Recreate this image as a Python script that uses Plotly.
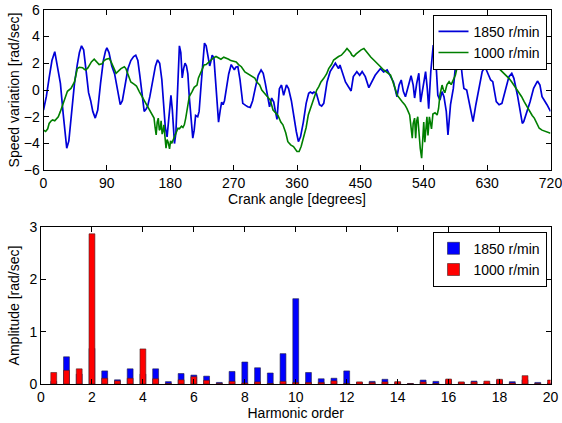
import plotly.graph_objects as go

# ---- Crank-angle speed variation (deg, rad/s) ----
angle_1850 = [0, 4, 8, 12, 16, 20, 24, 28, 31, 33, 36, 40, 44, 48, 51, 54, 57, 61, 64, 67, 70, 73.5, 77, 81, 85, 88, 90, 93, 97, 101,
              105, 109, 112, 116, 120, 124, 128, 131, 134, 137, 140, 143, 146, 148, 151, 155, 159, 162, 165, 168, 171, 173, 175.5,
              178, 181, 183, 186, 188, 190, 192, 193, 195, 197, 199, 201, 203, 205, 207, 210, 212, 214, 216, 219, 221, 224, 227,
              228.6, 231, 234, 236, 238, 239.5, 242, 244, 246, 248.6, 251, 253, 255, 257, 260, 263, 266.6, 269, 271, 273, 276, 279,
              283, 287, 290, 293.6, 297, 301, 305, 309, 312, 315, 318, 321, 324, 327, 329, 331.6, 333, 335, 338, 341, 345, 348, 352,
              356, 359, 362, 365, 369, 373, 376.6, 379, 382, 384, 387.5, 392, 395, 398, 402.7, 407, 414.5, 419, 421, 428.8, 436.8,
              440, 445, 449, 452.5, 457, 462, 467, 471, 478.6, 483, 488, 492, 497, 502, 505, 508, 511, 514, 518, 522, 525, 527, 530,
              533, 535.5, 539, 542.6, 545, 547, 550, 553.5, 557, 560, 563, 566, 568.7, 572, 574.4, 578, 582, 585, 589, 592, 594.8,
              597, 601, 604, 610, 614, 618, 623, 627, 630, 635, 638, 643, 647, 651, 656, 661, 665, 668, 673, 680, 682, 687, 691, 696,
              701.5, 705, 708, 715, 720]
speed_1850 = [-1.5, -0.5, 0.9, 2.2, 2.86, 1.8, 0.5, -1.8, -3.5, -4.35, -3.8, -1.5, 0.5, 1.9, 2.8, 3.3, 3.0, 1.2, -0.2, -0.8, -1.6, -2.1,
              -1.5, 0.5, 2.2, 2.9, 3.15, 2.8, 1.8, 1.2, 0.0, -1.1, -0.8, 0.5, 1.6, 2.2, 2.5, 2.6, 2.2, 1.0, -0.5, -1.6, -1.4, -1.2,
              -0.5, 0.6, 1.8, 2.25, 2.0, 0.8, -1.2, -2.8, -3.5, -2.2, -0.4, -1.5, -4.0, -3.2, -0.5, 2.0, 3.3, 2.8, 0.9, 1.6, 2.0,
              1.8, 1.2, -0.5, -2.8, -3.6, -3.0, -1.9, -2.0, -1.6, 0.5, 2.8, 3.5, 3.3, 2.4, 1.8, 2.2, 2.6, 2.4, 1.0, -1.0, -2.4,
              -1.5, -0.9, -1.1, -0.8, 0.2, 1.2, 1.9, 1.7, 1.5, 1.7, 1.75, 0.8, -1.0, -1.15, -1.25, -1.3, -0.8, 0.2, 1.1, 1.5, 1.25,
              0.5, -0.5, -1.25, -0.6, -0.9, -1.5, -2.2, -1.2, 0.1, 0.37, -0.4, 0.37, 0.1, -0.8, -2.2, -3.1, -3.85, -3.5, -2.4, -1.0,
              -0.25, -0.15, -0.25, -0.15, -0.25, -1.1, -1.2, -1.0, 0.6, 1.37, 2.0, 1.6, 1.87, 0.6, -0.07, 1.0, 1.37, 1.1, 1.37, 1.0,
              0.17, 0.75, 1.1, 1.6, 1.35, 1.5, 1.12, 0.6, -0.5, 0.37, 0.75, -0.1, -0.5, 0.25, 1.07, 0.37, -0.6, 0.5, 1.25, -0.9,
              0.37, 1.37, 0.12, -1.4, 1.37, 3.36, 2.4, -0.4, -0.75, -0.12, -0.5, -1.6, -3.36, -1.1, 0.12, 1.74, 2.86, 2.36, 1.0,
              0.12, 0.0, -0.87, -2.36, -1.1, 0.12, 1.37, 1.74, 1.37, 0.75, 0.62, -0.87, -1.1, -1.0, 0.0, 1.0, 1.24, 0.87, -0.37,
              -2.5, -2.36, -1.6, -0.87, 0.12, 0.67, 0.37, -0.5, -1.1, -1.6]

angle_1000 = [0, 3, 6, 8, 11, 13, 16, 18, 21, 24, 27, 31, 34, 39, 41, 44, 46, 48, 51, 55.5, 58, 60, 63, 65, 68, 72, 75, 79, 83, 86, 89,
              93.5, 96, 98, 101, 103, 106, 110, 114.8, 117, 119, 122, 124, 129, 132, 136, 140, 143, 147, 150, 153, 157, 158.5, 160,
              161.5, 163, 164.5, 166, 167, 168.5, 170, 171, 172.5, 174, 175.5, 177, 179, 180.5, 182, 186, 188, 191, 193, 196, 198,
              200, 202, 205, 207, 211, 214, 218, 220, 224, 228, 231, 235, 240.5, 245, 249, 252, 256, 259.5, 263, 266, 270, 273.7,
              277, 281, 286, 292.7, 297, 300, 303, 307, 310, 314, 318, 322, 326, 330, 333, 337, 340, 344, 347, 351, 355, 360, 363,
              366, 369.5, 373, 376, 380, 383.7, 388, 391, 394, 398, 402, 405, 409, 412, 416, 419, 423, 426, 428, 431, 434, 436, 438,
              440.6, 444, 448, 451, 455, 458, 462, 465, 469, 473, 478.6, 483, 488, 492.8, 495, 498, 500, 502, 506, 509.4, 513, 516,
              520, 521.5, 523.7, 525, 527, 528.5, 530, 531.5, 533, 535, 537, 538.5, 540, 541.5, 543, 544.5, 546, 548, 550, 551, 553,
              556, 559, 561, 563, 566, 568, 570, 573, 576, 579, 582, 585, 587, 590, 593, 597, 600, 604, 608, 611, 614, 618, 622,
              625.6, 629, 633, 636, 640, 643, 647, 650, 654, 658, 661, 665, 668, 672, 675, 679, 682.6, 686, 690, 694, 697, 701, 704,
              708, 713, 717, 720]
speed_1000 = [-3.0, -3.1, -2.9, -2.5, -2.3, -2.24, -2.3, -2.2, -2.0, -1.6, -1.1, -0.5, -0.1, 0.12, 0.3, 0.6, 1.1, 1.6, 1.7, 1.67, 1.55,
              1.5, 1.65, 1.87, 2.1, 2.3, 2.1, 1.9, 1.95, 2.2, 2.3, 2.36, 2.1, 1.9, 1.5, 1.24, 1.4, 1.6, 1.74, 1.6, 1.3, 0.9, 0.6,
              0.42, 0.3, -0.12, -0.5, -0.75, -1.1, -1.37, -1.7, -2.1, -2.8, -3.36, -2.4, -2.1, -3.0, -2.9, -2.3, -3.3, -3.0, -2.6,
              -3.5, -4.35, -3.7, -3.9, -4.4, -3.8, -4.0, -3.5, -3.3, -2.86, -2.9, -2.7, -2.8, -2.6, -2.1, -1.0, -0.5, -0.12, 0.2,
              0.37, 0.9, 1.37, 1.87, 1.9, 2.1, 2.36, 2.5, 2.35, 2.3, 2.45, 2.4, 2.3, 2.2, 2.15, 2.1, 1.9, 1.74, 1.35, 1.12, 1.0, 0.9,
              0.6, 0.37, 0.0, -0.25, -0.5, -0.75, -1.5, -1.7, -1.9, -2.4, -2.6, -3.2, -3.86, -4.1, -4.23, -4.6, -4.6, -4.2, -3.5,
              -2.8, -1.87, -1.2, -0.62, 0.0, 0.25, 0.6, 0.87, 1.2, 1.6, 1.9, 2.24, 2.4, 2.5, 2.6, 2.74, 2.9, 3.1, 2.95, 2.8, 2.6,
              2.5, 2.7, 2.9, 3.0, 3.1, 2.9, 2.6, 2.45, 2.24, 2.0, 1.74, 1.5, 1.3, 1.12, 0.8, 0.37, 0.0, -0.37, -0.6, -0.87, -1.1,
              -1.37, -1.87, -2.8, -3.6, -2.5, -2.1, -3.6, -2.3, -2.0, -3.1, -4.35, -5.1, -3.4, -2.4, -3.9, -3.0, -2.0, -3.4, -2.0,
              -2.6, -2.9, -1.8, -1.7, -1.87, -1.4, -0.37, 0.37, 0.0, -0.2, 0.4, 0.62, 0.4, 0.8, 1.12, 1.6, 2.0, 2.1, 2.2, 2.36, 2.6,
              2.4, 2.35, 2.6, 2.5, 2.3, 2.24, 2.1, 2.0, 2.1, 2.0, 1.8, 1.6, 1.4, 1.24, 1.0, 0.87, 0.6, 0.37, 0.0, -0.25, -0.5,
              -0.87, -1.2, -1.6, -1.9, -2.1, -2.5, -2.86, -3.0, -3.1, -3.15, -3.23]

# ---- Harmonic amplitude spectrum (rad/s) ----
harmonic_order = [0.5, 1, 1.5, 2, 2.5, 3, 3.5, 4, 4.5, 5, 5.5, 6, 6.5, 7, 7.5, 8, 8.5, 9, 9.5, 10,
                  10.5, 11, 11.5, 12, 12.5, 13, 13.5, 14, 14.5, 15, 15.5, 16, 16.5, 17, 17.5, 18, 18.5, 19, 19.5, 20]
amp_1850 = [0.05, 0.52, 0.19, 0.68, 0.25, 0.08, 0.29, 0.19, 0.29, 0.045, 0.20, 0.17, 0.15, 0.03, 0.24, 0.42, 0.31, 0.21, 0.58, 1.63,
            0.22, 0.10, 0.11, 0.25, 0.03, 0.05, 0.09, 0.03, 0.01, 0.075, 0.05, 0.07, 0.03, 0.055, 0.02, 0.07, 0.045, 0.08, 0.03, 0.02]
amp_1000 = [0.22, 0.26, 0.29, 2.87, 0.11, 0.06, 0.11, 0.67, 0.10, 0.01, 0.08, 0.14, 0.07, 0.01, 0.05, 0.02, 0.04, 0.01, 0.05, 0.03,
            0.03, 0.03, 0.06, 0.01, 0.04, 0.03, 0.04, 0.045, 0.005, 0.04, 0.01, 0.095, 0.04, 0.04, 0.055, 0.09, 0.02, 0.16, 0.01, 0.075]

FONT = "Liberation Sans, Arial, sans-serif"
W, H = 562, 423

fig = go.Figure()

fig.add_trace(go.Scatter(x=angle_1850, y=speed_1850, mode="lines", name="1850 r/min",
                         line=dict(color="#0000d8", width=1.7), xaxis="x", yaxis="y", legend="legend"))
fig.add_trace(go.Scatter(x=angle_1000, y=speed_1000, mode="lines", name="1000 r/min",
                         line=dict(color="#007f00", width=1.6), xaxis="x", yaxis="y", legend="legend"))

fig.add_trace(go.Bar(x=harmonic_order, y=amp_1850, name="1850 r/min", width=0.23,
                     marker=dict(color="#0000ff", line=dict(color="#222244", width=0.6)),
                     xaxis="x2", yaxis="y2", legend="legend2"))
fig.add_trace(go.Bar(x=harmonic_order, y=amp_1000, name="1000 r/min", width=0.23,
                     marker=dict(color="#ff0000", line=dict(color="#442222", width=0.6)),
                     xaxis="x2", yaxis="y2", legend="legend2"))

axis_common = dict(showline=True, linecolor="black", linewidth=1, mirror="ticks", automargin=False,
                   ticks="inside", ticklen=5, tickcolor="black", showgrid=False, zeroline=False,
                   ticklabeloverflow="allow",
                   tickfont=dict(family=FONT, size=14, color="black"))

def px_x(p):
    return p / W

def px_y(p):
    return 1 - p / H

fig.update_layout(
    width=W, height=H,
    margin=dict(l=0, r=0, t=0, b=0),
    paper_bgcolor="white", plot_bgcolor="white",
    barmode="overlay",
    font=dict(family=FONT, size=14, color="black"),
    xaxis=dict(domain=[px_x(43.5), px_x(550.5)], anchor="y", range=[0, 720], tickmode="array",
               tickvals=[0, 90, 180, 270, 360, 450, 540, 630, 720],
               title=dict(text="Crank angle [degrees]", font=dict(size=14), standoff=2), **axis_common),
    yaxis=dict(domain=[px_y(170.3), px_y(9.7)], anchor="x", range=[-6, 6], dtick=2,
               title=dict(text="Speed variation [rad/sec]", font=dict(size=14), standoff=0), **axis_common),
    xaxis2=dict(domain=[px_x(41), px_x(550.5)], anchor="y2", range=[0, 20], dtick=2,
                title=dict(text="Harmonic order", font=dict(size=14), standoff=2), **axis_common),
    yaxis2=dict(domain=[px_y(384), px_y(227)], anchor="x2", range=[0, 3], dtick=1,
                title=dict(text="Amplitude [rad/sec]", font=dict(size=14), standoff=6), **axis_common),
    legend=dict(x=px_x(546.5), y=px_y(14.7), xanchor="right", yanchor="top",
                bgcolor="white", bordercolor="black", borderwidth=1,
                font=dict(family=FONT, size=14), tracegroupgap=0, itemwidth=30),
    legend2=dict(x=px_x(546.5), y=px_y(231.7), xanchor="right", yanchor="top",
                 bgcolor="white", bordercolor="black", borderwidth=1,
                 font=dict(family=FONT, size=14), tracegroupgap=0, itemwidth=30),
    showlegend=True,
)

fig.write_html("out.html")
